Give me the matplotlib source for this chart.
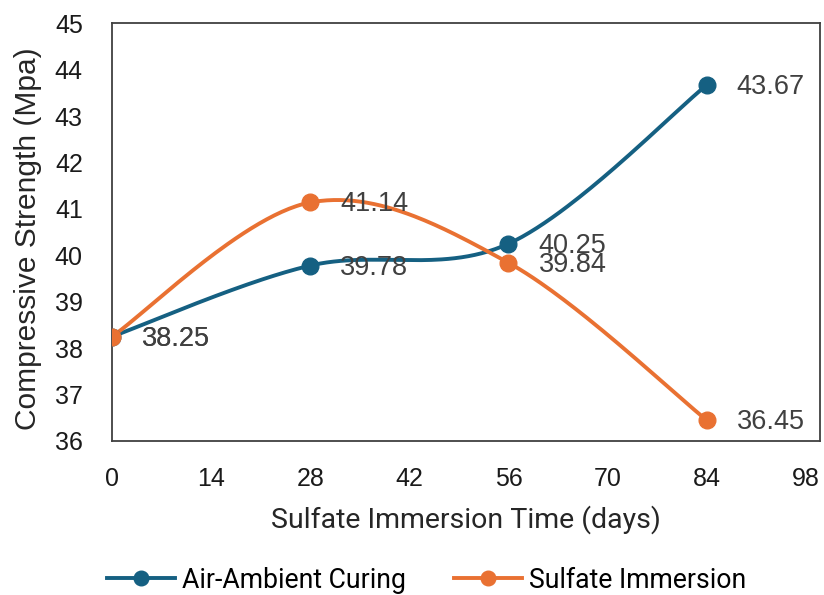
import numpy as np
import matplotlib
matplotlib.use("Agg")
import matplotlib.pyplot as plt

# Data
days = [0, 28, 56, 84]
air_ambient = [38.25, 39.78, 40.25, 43.67]
sulfate = [38.25, 41.14, 39.84, 36.45]
series_names = ["Air-Ambient Curing", "Sulfate Immersion"]
series_colors = ["#156082", "#E97132"]
x_ticks = [0, 14, 28, 42, 56, 70, 84, 98]
y_ticks = [36, 37, 38, 39, 40, 41, 42, 43, 44, 45]

title_font = "Roboto"
number_font = "Liberation Sans"
W, H = 824, 595


def smooth(xs, ys, n=60):
    """Catmull-Rom style cubic Bezier smoothing through the points."""
    p = np.column_stack([xs, ys]).astype(float)
    pts = [p[0]]
    for i in range(len(p) - 1):
        p_prev = p[i - 1] if i > 0 else p[i]
        p_next2 = p[i + 2] if i + 2 < len(p) else p[i + 1]
        c1 = p[i] + (p[i + 1] - p_prev) / 6.0
        c2 = p[i + 1] - (p_next2 - p[i]) / 6.0
        t = np.linspace(0, 1, n)[1:, None]
        seg = ((1 - t) ** 3) * p[i] + 3 * ((1 - t) ** 2) * t * c1 \
            + 3 * (1 - t) * t ** 2 * c2 + t ** 3 * p[i + 1]
        pts.extend(seg)
    pts = np.array(pts)
    return pts[:, 0], pts[:, 1]


fig = plt.figure(figsize=(W / 100, H / 100), dpi=100)
ax = fig.add_axes([112 / W, 1 - 441 / H, (820 - 112) / W, (441 - 23.3) / H])

for ys, name, color in zip([air_ambient, sulfate], series_names, series_colors):
    sx, sy = smooth(days, ys)
    ax.plot(sx, sy, color=color, lw=2.8, solid_capstyle="round", zorder=3)
    ax.plot(days, ys, "o", color=color, ms=12, zorder=4)
    ax.plot([], [], "-o", color=color, lw=2.8, ms=10.5, label=name)
    for x, y in zip(days, ys):
        ax.annotate(f"{y:.2f}", (x, y), xytext=(30, -2), textcoords="offset pixels",
                    ha="left", va="center", fontsize=19.5, color="#404040",
                    family=number_font, zorder=5)

ax.set_xlim(0, 100)
ax.set_ylim(36, 45)
ax.set_xticks(x_ticks)
ax.set_yticks(y_ticks)
ax.tick_params(axis="both", length=0, labelsize=18, labelcolor="#1a1a1a")
ax.tick_params(axis="x", pad=19)
ax.tick_params(axis="y", pad=21)
for lab in ax.get_xticklabels() + ax.get_yticklabels():
    lab.set_family(number_font)
for s in ax.spines.values():
    s.set_color("#404040")
    s.set_linewidth(1.3)

fig.text(466 / W, 1 - 520 / H, "Sulfate Immersion Time (days)", fontsize=20.5,
         family=title_font, color="#262626", ha="center", va="center")
fig.text(28 / W, 1 - 239 / H, "Compressive Strength (Mpa)", fontsize=21.5,
         family=number_font, color="#262626", ha="center", va="center", rotation=90)

fig.legend(loc="center", bbox_to_anchor=(426.5 / W, 1 - 580 / H), ncol=2, frameon=False,
           prop={"family": title_font, "size": 19.2}, handlelength=2.55,
           columnspacing=1.8, handletextpad=0.25)

fig.savefig("out.png", dpi=100)
